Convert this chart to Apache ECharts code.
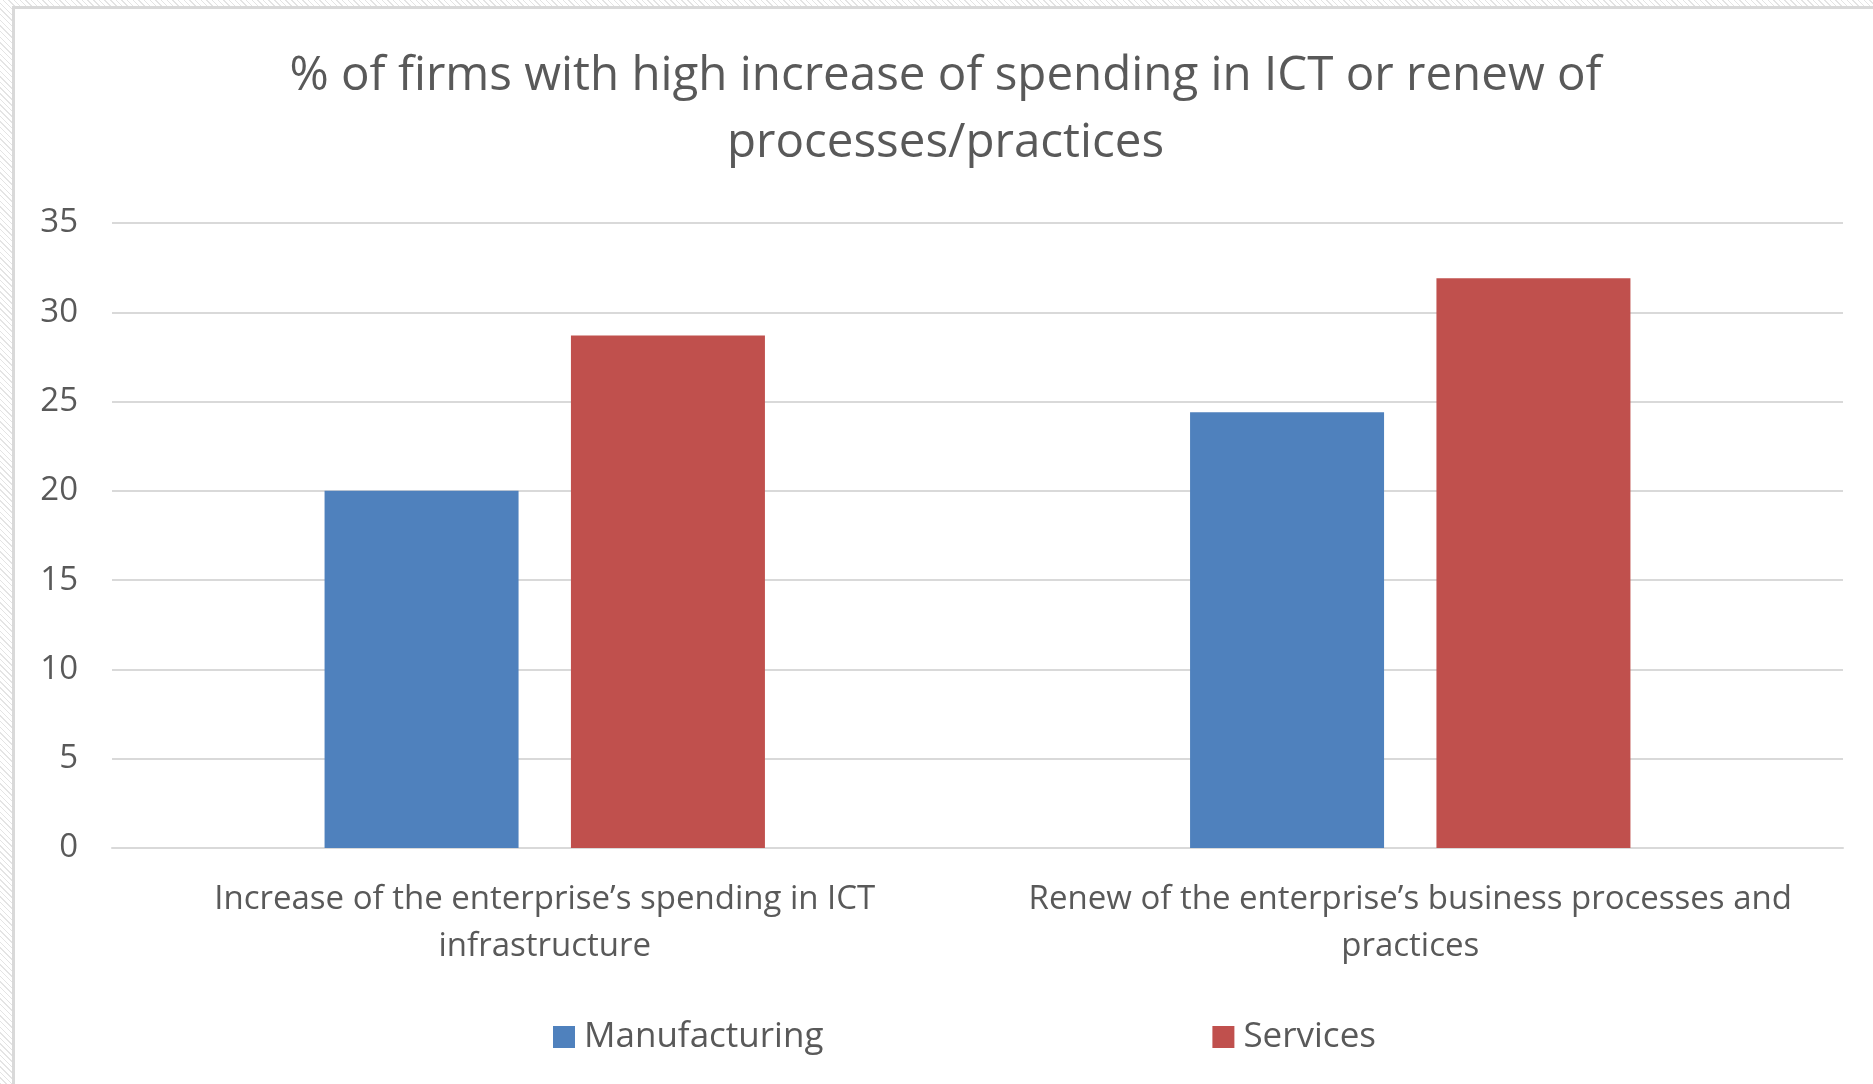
<!DOCTYPE html>
<html>
<head>
<meta charset="utf-8">
<script src="https://cdn.jsdelivr.net/npm/echarts@6/dist/echarts.min.js"></script>
<style>
  html, body {
    margin: 0;
    padding: 0;
    width: 1873px;
    height: 1084px;
    overflow: hidden;
    background-color: #ffffff;
    background-image: repeating-linear-gradient(45deg, #e4e4e4 0px, #e4e4e4 1px, #ffffff 1px, #ffffff 4px);
  }
  #chart {
    position: absolute;
    left: 12px;
    top: 6px;
    width: 1861px;
    height: 1078px;
    border-left: 3px solid #d9d9d9;
    border-top: 3px solid #d9d9d9;
    background: #ffffff;
  }
</style>
</head>
<body>
<div id="chart"></div>
<script>
// Chart content
const titleLines = [
  '% of firms with high increase of spending in ICT or renew of',
  'processes/practices'
];
const categories = [
  'Increase of the enterprise\u2019s spending in ICT\ninfrastructure',
  'Renew of the enterprise\u2019s business processes and\npractices'
];
const seriesNames = ['Manufacturing', 'Services'];
const manufacturing = [20.0, 24.4];
const services = [28.7, 31.9];
const yTicks = { min: 0, max: 35, interval: 5 };

const textColor = '#595959';
const fontFamily = '"Open Sans", "Noto Sans", sans-serif';

const chart = echarts.init(document.getElementById('chart'), null, { renderer: 'canvas' });

chart.setOption({
  animation: false,
  backgroundColor: '#ffffff',
  color: ['#4F81BD', '#C0504D'],
  title: {
    text: titleLines.join('\n'),
    left: 'center',
    top: 29,
    textStyle: {
      color: textColor,
      fontFamily: fontFamily,
      fontWeight: 'normal',
      fontSize: 47.5,
      lineHeight: 67
    }
  },
  legend: {
    data: seriesNames,
    left: 533,
    top: 1003,
    itemWidth: 22,
    itemHeight: 22,
    itemGap: 389,
    icon: 'rect',
    textStyle: {
      color: textColor,
      fontFamily: fontFamily,
      fontSize: 35,
      lineHeight: 40,
      padding: [0, 0, 0, 4]
    }
  },
  grid: {
    left: 97,
    right: 33,
    top: 214,
    bottom: 239,
    containLabel: false
  },
  xAxis: {
    type: 'category',
    data: categories,
    axisLine: { show: true, lineStyle: { color: '#d9d9d9', width: 2 } },
    axisTick: { show: false },
    axisLabel: {
      color: textColor,
      fontFamily: fontFamily,
      fontSize: 33,
      lineHeight: 47,
      margin: 28,
      interval: 0
    }
  },
  yAxis: {
    type: 'value',
    min: yTicks.min,
    max: yTicks.max,
    interval: yTicks.interval,
    axisLine: { show: false },
    axisTick: { show: false },
    splitLine: { lineStyle: { color: '#d9d9d9', width: 2 } },
    axisLabel: {
      color: textColor,
      fontFamily: fontFamily,
      fontSize: 33,
      margin: 34
    }
  },
  series: [
    {
      name: seriesNames[0],
      type: 'bar',
      data: manufacturing,
      barWidth: 194,
      barGap: '27%'
    },
    {
      name: seriesNames[1],
      type: 'bar',
      data: services,
      barWidth: 194,
      barGap: '27%'
    }
  ]
});
</script>
</body>
</html>
